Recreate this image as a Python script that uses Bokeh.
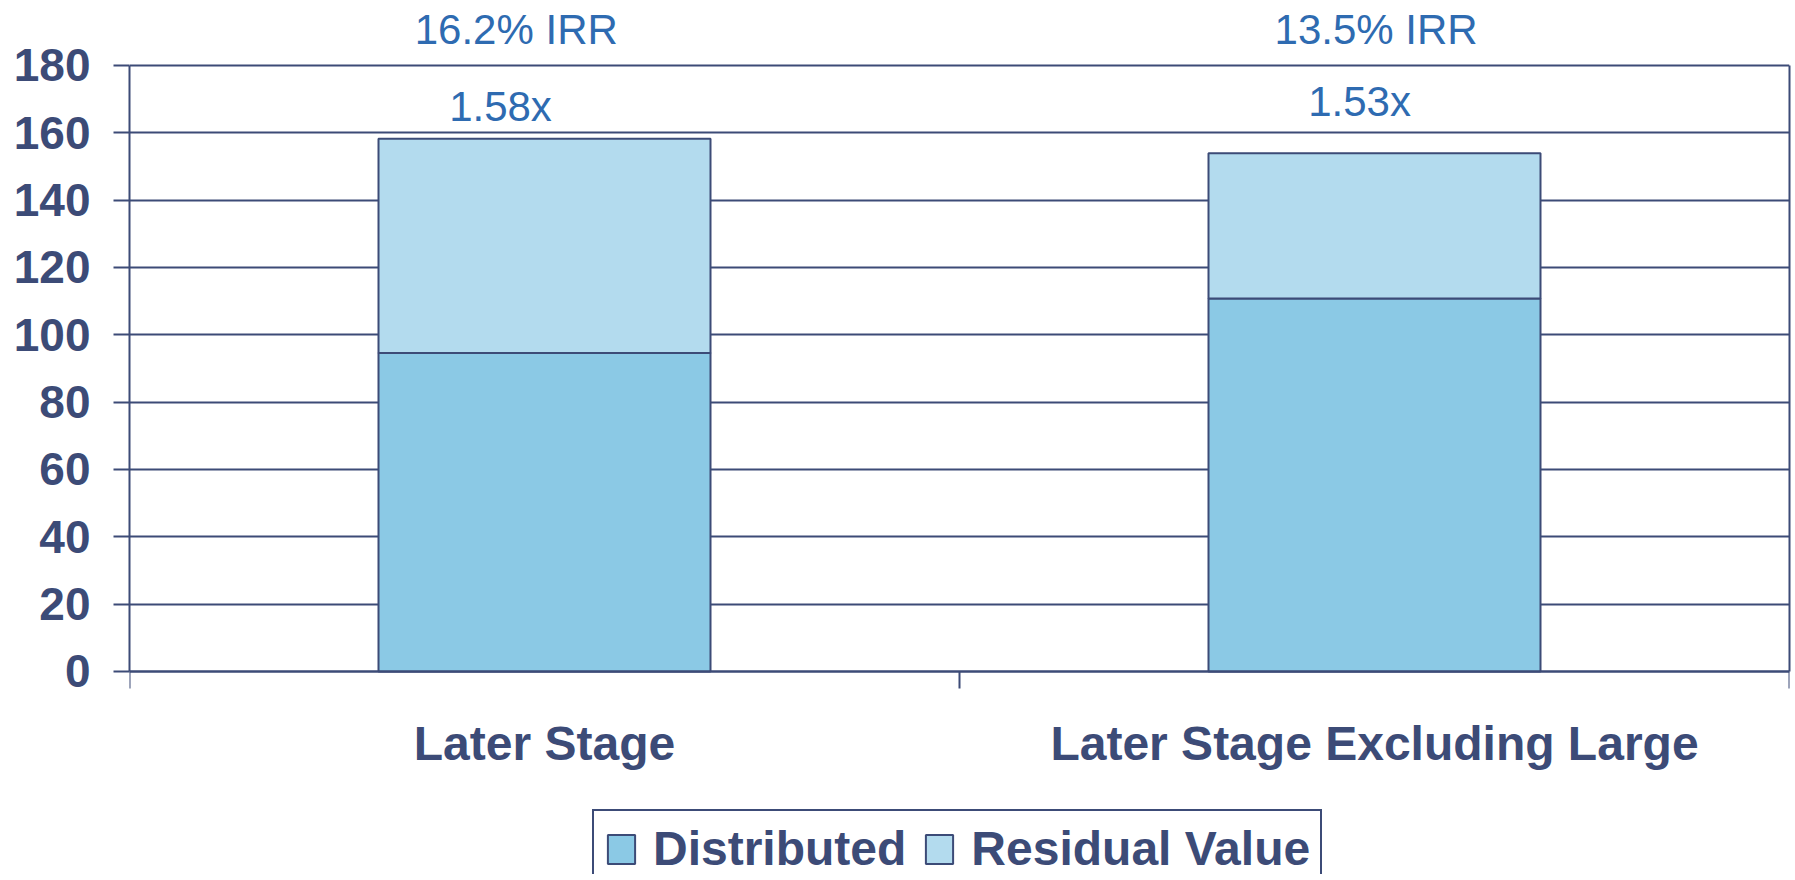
from bokeh.plotting import figure
from bokeh.models import (ColumnDataSource, Range1d, LinearAxis, FixedTicker,
                          LabelSet)
from bokeh.core.properties import value
from bokeh.embed import file_html
from bokeh.resources import INLINE

# ---- data ----
categories = ["Later Stage", "Later Stage Excluding Large"]
distributed = [94.6, 110.8]
residual = [63.6, 43.1]
irr_labels = ["16.2% IRR", "13.5% IRR"]
multiple_labels = ["1.58x", "1.53x"]
y_ticks = [0, 20, 40, 60, 80, 100, 120, 140, 160, 180]
series_names = ["Distributed", "Residual Value"]

NAVY = "#3C4B77"
BLUE_TXT = "#2E6BB1"
C_DIST = "#8BC9E5"
C_RES = "#B3DBEE"
FONT = "Liberation Sans"

Y_MAX = y_ticks[-1]
# view range: room above for IRR labels, room below for category labels + legend
Y_TOP = 199.3
Y_BOT = -60.3
n = len(categories)
centers = [i + 0.5 for i in range(n)]
src = ColumnDataSource(dict(x=centers, distributed=distributed, residual=residual))

p = figure(width=1795, height=880, output_backend="svg", toolbar_location=None,
           x_range=Range1d(0, n), y_range=Range1d(Y_BOT, Y_TOP),
           x_axis_type=None,
           min_border_left=129, min_border_right=6, min_border_top=0,
           min_border_bottom=6)
p.background_fill_color = "white"
p.border_fill_color = "white"
p.outline_line_color = None

p.vbar_stack(["distributed", "residual"], x="x", width=0.4, source=src,
             fill_color=[C_DIST, C_RES], line_color=NAVY, line_width=2,
             legend_label=series_names)

# y axis
yt = FixedTicker(ticks=y_ticks)
p.yaxis.ticker = yt
p.yaxis.bounds = (0, Y_MAX)
p.ygrid.ticker = yt
p.ygrid.grid_line_color = NAVY
p.ygrid.grid_line_width = 2
p.yaxis.axis_line_color = NAVY
p.yaxis.axis_line_width = 2
p.yaxis.major_tick_line_color = NAVY
p.yaxis.major_tick_line_width = 2
p.yaxis.major_tick_out = 16
p.yaxis.major_tick_in = 0
p.yaxis.minor_tick_line_color = None
p.yaxis.major_label_standoff = 23
p.yaxis.major_label_text_font = FONT
p.yaxis.major_label_text_font_style = "bold"
p.yaxis.major_label_text_font_size = "46px"
p.yaxis.major_label_text_color = NAVY

# right border of the plot area
raxis = LinearAxis(ticker=FixedTicker(ticks=[]), bounds=(0, Y_MAX))
raxis.axis_line_color = NAVY
raxis.axis_line_width = 2
raxis.major_tick_line_color = None
raxis.minor_tick_line_color = None
raxis.major_label_text_font_size = "0px"
p.add_layout(raxis, "right")

# x axis at y = 0 with category-boundary ticks
xaxis = LinearAxis(ticker=FixedTicker(ticks=[], minor_ticks=list(range(n + 1))),
                   fixed_location=0)
xaxis.axis_line_color = NAVY
xaxis.axis_line_width = 2
xaxis.major_tick_line_color = None
xaxis.major_tick_out = 0
xaxis.major_tick_in = 0
xaxis.minor_tick_line_color = NAVY
xaxis.minor_tick_line_width = 2
xaxis.minor_tick_out = 17
xaxis.minor_tick_in = 0
xaxis.major_label_text_font_size = "0px"
p.add_layout(xaxis, "below")
p.xgrid.visible = False

# category labels
cat_src = ColumnDataSource(dict(x=centers, y=[-21.5] * n, text=categories))
p.add_layout(LabelSet(x="x", y="y", text="text", source=cat_src,
                      text_align="center", text_baseline="middle",
                      text_font=value(FONT), text_font_size="48px",
                      text_font_style="bold", text_color=NAVY))

# annotations above bars
irr_src = ColumnDataSource(dict(x=[centers[0] - 0.034, centers[1] + 0.002],
                                y=[190.8, 190.8], text=irr_labels))
mult_src = ColumnDataSource(dict(x=[centers[0] - 0.053, centers[1] - 0.018],
                                 y=[167.8, 169.3], text=multiple_labels))
for s in (irr_src, mult_src):
    p.add_layout(LabelSet(x="x", y="y", text="text", source=s,
                          text_align="center", text_baseline="middle",
                          text_font=value(FONT), text_font_size="42px",
                          text_color=BLUE_TXT))

# legend (its lower part runs past the bottom edge, as in the original)
lg = p.legend[0]
lg.location = (463, -14)
lg.orientation = "horizontal"
lg.label_text_font = FONT
lg.label_text_font_style = "bold"
lg.label_text_font_size = "48px"
lg.label_text_color = NAVY
lg.glyph_width = 34
lg.glyph_height = 36
lg.label_standoff = 15
lg.spacing = 16
lg.padding = 10
lg.margin = 0
lg.border_line_color = NAVY
lg.border_line_alpha = 1.0
lg.border_line_width = 2
lg.background_fill_color = "white"
lg.background_fill_alpha = 1.0

open("out.html", "w").write(file_html(p, INLINE))
